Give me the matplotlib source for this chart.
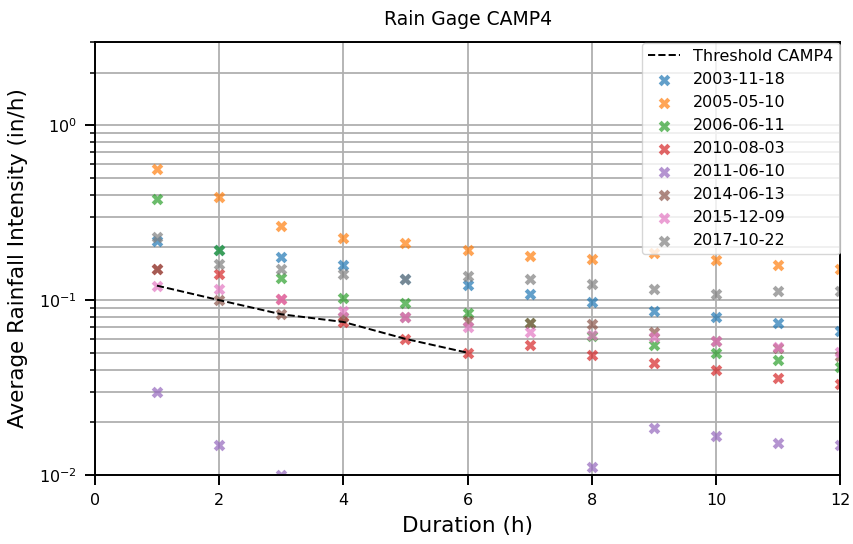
import numpy as np
import matplotlib
matplotlib.use("Agg")
import matplotlib.pyplot as plt

nan = np.nan

durations = [1, 2, 3, 4, 5, 6, 7, 8, 9, 10, 11, 12]

threshold_dur = [1, 2, 3, 4, 5, 6]
threshold_val = [0.121, 0.100, 0.083, 0.075, 0.060, 0.050]

events = ["2003-11-18", "2005-05-10", "2006-06-11", "2010-08-03",
          "2011-06-10", "2014-06-13", "2015-12-09", "2017-10-22"]

i_2003 = [0.218, 0.194, 0.177, 0.159, 0.132, 0.122, 0.109, 0.098, 0.087, 0.080, 0.0735, 0.067]
i_2005 = [0.563, 0.389, 0.266, 0.227, 0.212, 0.194, 0.179, 0.171, 0.186, 0.169, 0.159, 0.150]
i_2006 = [0.379, 0.194, 0.134, 0.103, 0.0965, 0.084, 0.0735, 0.062, 0.0552, 0.0495, 0.0453, 0.0415]
i_2010 = [0.150, 0.141, 0.101, 0.075, 0.0598, 0.0499, 0.0552, 0.0484, 0.0439, 0.0397, 0.036, 0.033]
i_2011 = [0.0297, 0.0148, 0.010, nan, nan, nan, nan, 0.0111, 0.0186, 0.0166, 0.0152, 0.0148]
i_2014 = [0.150, 0.100, 0.083, 0.080, 0.080, 0.076, 0.0735, 0.0729, 0.0658, 0.058, 0.053, 0.048]
i_2015 = [0.121, 0.116, 0.102, 0.087, 0.080, 0.070, 0.066, 0.063, 0.0616, 0.0582, 0.054, 0.0506]
i_2017 = [0.230, 0.161, 0.150, 0.141, 0.132, 0.137, 0.132, 0.123, 0.116, 0.108, 0.112, 0.112]

series = [i_2003, i_2005, i_2006, i_2010, i_2011, i_2014, i_2015, i_2017]

fig = plt.figure(figsize=(8.54, 5.44), dpi=100)
ax = fig.add_axes([0.111, 0.127, 0.873, 0.796])

ax.plot(threshold_dur, threshold_val, "k--", lw=1.4, label="Threshold CAMP4", zorder=3)
for name, vals in zip(events, series):
    ax.scatter(durations, vals, marker="X", s=70, alpha=0.7, linewidths=0,
               label=name, zorder=2)

ax.set_yscale("log")
ax.set_xlim(0, 12)
ax.set_ylim(0.01, 3)
ax.set_xticks([0, 2, 4, 6, 8, 10, 12])
ax.grid(True, which="both", color="#b0b0b0", lw=1.3, zorder=0)
ax.set_axisbelow(True)
for sp in ax.spines.values():
    sp.set_linewidth(1.4)
    sp.set_color("black")
ax.tick_params(labelsize=11.5, width=1.4, length=7, pad=6)
ax.tick_params(which="minor", width=1.1, length=3.5)

ax.set_title("Rain Gage CAMP4", fontsize=13.5, pad=12)
ax.set_xlabel("Duration (h)", fontsize=15.5, labelpad=6)
ax.set_ylabel("Average Rainfall Intensity (in/h)", fontsize=15.5, labelpad=8)
ax.legend(loc="upper right", fontsize=11.5, borderaxespad=0.05)

fig.savefig("out.png", dpi=100)
